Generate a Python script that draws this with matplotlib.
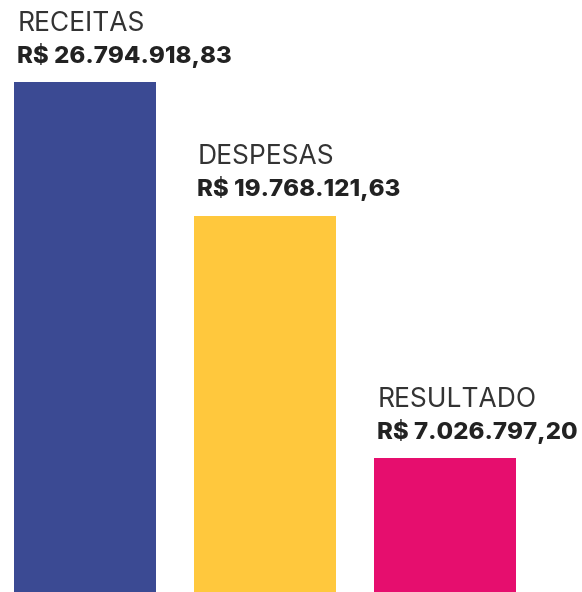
import matplotlib
matplotlib.use("Agg")
import matplotlib.pyplot as plt

# dados do gráfico
categorias = ["RECEITAS", "DESPESAS", "RESULTADO"]
valores = [26794918.83, 19768121.63, 7026797.20]
rotulos = ["R$ 26.794.918,83", "R$ 19.768.121,63", "R$ 7.026.797,20"]
cores = ["#3B4A93", "#FFC83D", "#E60E6E"]

plt.rcParams["font.family"] = ["Inter", "DejaVu Sans"]

fig = plt.figure(figsize=(5.82, 5.92), dpi=100)
ax = fig.add_axes([0, 0, 1, 1])

largura = 0.79
x = range(len(categorias))
ax.bar(x, valores, width=largura, color=cores)

for i in x:
    esquerda = i - largura / 2
    # valor em negrito logo acima da barra
    ax.annotate(rotulos[i], xy=(esquerda, valores[i]), xytext=(2.5, 14),
                textcoords="offset points", fontsize=17.3, fontweight="heavy",
                color="#222222", va="baseline", ha="left")
    # nome da categoria
    ax.annotate(categorias[i], xy=(esquerda, valores[i]), xytext=(2.5, 37),
                textcoords="offset points", fontsize=19,
                color="#333333", va="baseline", ha="left")

ax.set_xlim(-0.472, 2.761)
ax.set_ylim(0, valores[0] * 592 / 510)
ax.axis("off")

fig.savefig("out.png", dpi=100)
